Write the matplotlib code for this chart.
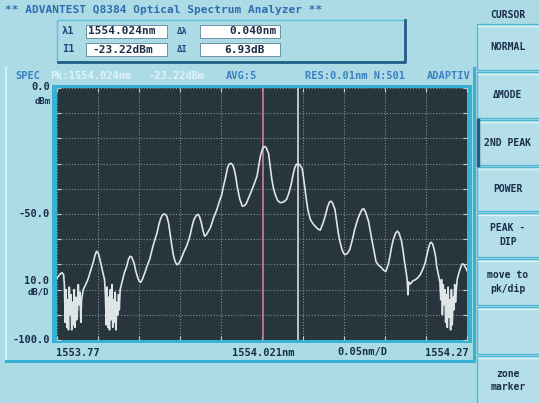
import matplotlib.pyplot as plt
from matplotlib.patches import Rectangle

# trace (nm, dBm)
wavelength_nm = [
    1553.770, 1553.772, 1553.774, 1553.776, 1553.778, 1553.779, 1553.780, 1553.781, 1553.782, 1553.783,
    1553.784, 1553.785, 1553.786, 1553.787, 1553.788, 1553.789, 1553.790, 1553.791, 1553.792, 1553.793,
    1553.794, 1553.795, 1553.796, 1553.797, 1553.798, 1553.799, 1553.800, 1553.801, 1553.802, 1553.805,
    1553.808, 1553.811, 1553.814, 1553.816, 1553.818, 1553.820, 1553.822, 1553.824, 1553.826, 1553.828,
    1553.829, 1553.830, 1553.831, 1553.832, 1553.833, 1553.834, 1553.835, 1553.836, 1553.837, 1553.838,
    1553.839, 1553.840, 1553.841, 1553.842, 1553.843, 1553.844, 1553.845, 1553.846, 1553.847, 1553.849,
    1553.852, 1553.855, 1553.857, 1553.859, 1553.861, 1553.864, 1553.866, 1553.868, 1553.870, 1553.872,
    1553.874, 1553.877, 1553.880, 1553.883, 1553.887, 1553.890, 1553.892, 1553.894, 1553.896, 1553.898,
    1553.900, 1553.902, 1553.904, 1553.906, 1553.908, 1553.910, 1553.912, 1553.914, 1553.916, 1553.918,
    1553.920, 1553.922, 1553.925, 1553.928, 1553.931, 1553.933, 1553.935, 1553.937, 1553.940, 1553.942,
    1553.944, 1553.946, 1553.948, 1553.950, 1553.952, 1553.954, 1553.957, 1553.961, 1553.965, 1553.968,
    1553.971, 1553.973, 1553.975, 1553.978, 1553.980, 1553.982, 1553.984, 1553.986, 1553.988, 1553.990,
    1553.993, 1553.996, 1553.999, 1554.001, 1554.004, 1554.007, 1554.010, 1554.014, 1554.016, 1554.018,
    1554.021, 1554.023, 1554.025, 1554.028, 1554.030, 1554.032, 1554.034, 1554.036, 1554.039, 1554.042,
    1554.046, 1554.050, 1554.053, 1554.056, 1554.058, 1554.060, 1554.062, 1554.064, 1554.066, 1554.069,
    1554.071, 1554.074, 1554.076, 1554.079, 1554.082, 1554.085, 1554.088, 1554.091, 1554.094, 1554.097,
    1554.100, 1554.102, 1554.104, 1554.106, 1554.109, 1554.111, 1554.113, 1554.115, 1554.117, 1554.119,
    1554.121, 1554.124, 1554.127, 1554.130, 1554.133, 1554.137, 1554.140, 1554.142, 1554.144, 1554.146,
    1554.148, 1554.150, 1554.152, 1554.154, 1554.157, 1554.159, 1554.162, 1554.164, 1554.166, 1554.168,
    1554.170, 1554.171, 1554.174, 1554.176, 1554.178, 1554.180, 1554.183, 1554.185, 1554.187, 1554.190,
    1554.192, 1554.194, 1554.196, 1554.197, 1554.198, 1554.199, 1554.201, 1554.204, 1554.207, 1554.210,
    1554.213, 1554.216, 1554.219, 1554.221, 1554.223, 1554.225, 1554.226, 1554.228, 1554.230, 1554.232,
    1554.233, 1554.235, 1554.237, 1554.238, 1554.239, 1554.240, 1554.241, 1554.242, 1554.243, 1554.244,
    1554.245, 1554.246, 1554.247, 1554.248, 1554.249, 1554.250, 1554.251, 1554.252, 1554.253, 1554.254,
    1554.255, 1554.256, 1554.257, 1554.258, 1554.260, 1554.262, 1554.264, 1554.266, 1554.268, 1554.270,
]
level_dbm = [
    -75.5, -74.6, -73.8, -73.3, -74.0, -78, -93, -80, -95, -84,
    -96, -79, -90, -82, -96, -85, -94, -80, -95, -83,
    -92, -88, -78, -86, -81, -93, -84, -82, -80, -78,
    -75.7, -72.5, -69.4, -66.8, -64.8, -65.3, -67.5, -70.5, -73.3, -76,
    -82, -94, -79, -95, -83, -96, -80, -92, -78, -95,
    -84, -93, -81, -96, -85, -90, -82, -88, -80, -77.4,
    -73.5, -70.8, -68.2, -66.8, -67.0, -69.5, -72.5, -74.8, -76.6, -77.1,
    -76.0, -73.4, -70.5, -68.0, -62.8, -59.5, -57.5, -54.5, -52.2, -50.7,
    -50.0, -50.1, -51.0, -53.5, -58.0, -62.5, -66.5, -68.8, -70.1, -69.8,
    -68.7, -67.3, -64.8, -62.8, -60.0, -57.5, -54.5, -52.2, -50.5, -50.2,
    -51.2, -53.5, -56.5, -58.8, -58.3, -57.2, -55.5, -51.5, -48.2, -45.0,
    -42.2, -39.0, -36.3, -31.6, -30.2, -29.9, -30.4, -32.0, -35.2, -39.5,
    -44.2, -46.9, -46.6, -45.7, -43.4, -40.9, -38.5, -34.9, -31.0, -27.0,
    -23.8, -23.2, -23.6, -26.0, -31.0, -36.3, -39.8, -42.2, -44.6, -45.5,
    -45.3, -44.2, -41.5, -37.6, -34.2, -31.6, -30.3, -30.1, -30.5, -32.0,
    -36.5, -44.0, -48.5, -52.2, -53.8, -54.9, -55.9, -56.4, -54.0, -50.9,
    -47.2, -45.4, -44.9, -45.6, -48.2, -53.0, -57.5, -60.8, -63.5, -65.3,
    -66.1, -65.7, -64.1, -60.5, -56.2, -51.8, -49.5, -48.2, -47.9, -49.0,
    -51.0, -53.0, -56.5, -60.2, -65.5, -68.8, -70.3, -70.8, -71.4, -72.2,
    -72.6, -72.8, -70.0, -66.8, -63.2, -60.2, -57.6, -56.8, -57.5, -60.5,
    -64.5, -69.4, -73.5, -76.1, -82.1, -77.0, -77.8, -76.5, -76.1, -75.3,
    -74.1, -72.0, -69.4, -66.5, -63.5, -61.6, -61.2, -61.8, -64.1, -67.5,
    -70.8, -74.0, -77.0, -84, -76, -90, -78, -86, -80, -93,
    -82, -95, -79, -91, -84, -96, -80, -94, -83, -88,
    -78, -85, -80, -76, -73.5, -71.5, -69.8, -70.0, -71.0, -72.5,
]

# markers: pink = centre / cursor 1, white = 2nd peak
marker_nm = [1554.021, 1554.064]
marker_colors = ['#c87aaa', '#d6dee0']

span_nm = [1553.77, 1554.27]
level_range = [-100.0, 0.0]
x_labels = ['1553.77', '1554.021nm', '1554.27']
y_labels = ['0.0', '-50.0', '-100.0']
y_label_values = [0.0, -50.0, -100.0]

buttons = ['NORMAL', '\u0394MODE', '2ND PEAK', 'POWER', 'PEAK -\nDIP',
           'move to\npk/dip', '', 'zone\nmarker']
button_tops = [24, 72, 120, 167, 213, 259, 307, 356]

PANEL = '#acdbe6'
SCREEN = '#28353c'
CYAN = '#35b2d4'
NAVY = '#1b2d4a'
BLUE = '#3a80c2'
MONO = dict(family='DejaVu Sans Mono', weight='bold')

W, H = 539, 403
fig = plt.figure(figsize=(W / 100, H / 100), dpi=100)
fig.patch.set_facecolor(PANEL)

# pixel-space overlay for the instrument chrome
bg = fig.add_axes([0, 0, 1, 1])
bg.set_xlim(0, W)
bg.set_ylim(H, 0)
bg.axis('off')


def rect(x0, y0, x1, y1, **kw):
    bg.add_patch(Rectangle((x0, y0), x1 - x0, y1 - y0, **kw))


def label(x, y, s, size=7.5, color=NAVY, ha='left', **kw):
    bg.text(x, y, s, size=size, color=color, ha=ha, va='center', **MONO, **kw)


label(5, 10, '** ADVANTEST Q8384 Optical Spectrum Analyzer **', size=8, color='#2f6cae')

# readout box
rect(57, 20, 405, 62, fc=PANEL, ec='#5cc0d8', lw=1)
bg.plot([58, 405, 405], [62, 62, 20], color='#1f5f85', lw=2)
for x0, x1 in [(86, 167), (200, 280)]:
    for y0 in [25, 43]:
        rect(x0, y0, x1, y0 + 13, fc='white', ec='#5a8498', lw=0.6)
label(62, 31, '\u03bb1', color='#1d4c80')
label(177, 31, '\u0394\u03bb', color='#1d4c80', size=6.5)
label(62, 49.5, 'I1', color='#1d4c80')
label(177, 49.5, '\u0394I', color='#1d4c80', size=6.5)
label(88, 31.5, '1554.024nm', size=8)
label(277, 31.5, '0.040nm', size=8, ha='right')
label(92, 50, '-23.22dBm', size=8)
label(265, 50, '6.93dB', size=8, ha='right')

# status line
label(15, 76, 'SPEC', size=7.5, color=BLUE)
label(50, 76, 'Pk:1554.024nm', size=7.5, color='#dff3f9')
label(148, 76, '-23.22dBm', size=7.5, color='#dff3f9')
label(226, 76, 'AVG:5', size=7.5, color=BLUE)
label(305, 76, 'RES:0.01nm N:501', size=7.5, color=BLUE)
label(427, 76, 'ADAPTIV', size=7.5, color=BLUE)

# frame around screen area
bg.plot([6, 6], [68, 361], color='#d4eff6', lw=1.5)
bg.plot([6, 474, 474], [361, 361, 68], color=CYAN, lw=2.2)
rect(52, 85, 472, 343, fc=CYAN, ec='none')
label(51, 101, 'dBm', size=6.5, ha='right')
label(49, 281, '10.0', size=7.5, ha='right')
label(49, 292, 'dB/D', size=6.5, ha='right')
label(337, 352, '0.05nm/D', size=7.5)

# soft-key column
label(508, 15, 'CURSOR', size=7, ha='center')
for i, (name, top) in enumerate(zip(buttons, button_tops)):
    bottom = button_tops[i + 1] - 2 if i + 1 < len(button_tops) else H + 2
    rect(477, top, W + 2, bottom, fc='#b4dfe9', ec='#4bb6d2', lw=0.9)
    bg.plot([478, W], [top + 1.5, top + 1.5], color='#d8f1f7', lw=1)
    if name == '2ND PEAK':
        bg.plot([478, 478], [top, bottom], color='#1f5f85', lw=2.5)
    label(508, (top + bottom) / 2, name, size=7, ha='center', linespacing=1.4)

# spectrum screen
ax = fig.add_axes([57 / W, 1 - 340 / H, 410 / W, 252 / H])
ax.set_facecolor(SCREEN)
ax.set_xlim(span_nm)
ax.set_ylim(level_range)
ax.set_xticks([span_nm[0] + 0.05 * k for k in range(11)])
ax.set_yticks([level_range[0] + 10 * k for k in range(11)])
ax.tick_params(direction='in', length=3, width=0.8, color='#c5d0d4',
               top=True, right=True, labelbottom=False, labelleft=False)
ax.grid(color='#7e9098', linestyle=(0, (1, 1.6)), linewidth=0.8)
for s in ax.spines.values():
    s.set_visible(False)

for nm, c in zip(marker_nm, marker_colors):
    ax.axvline(nm, color=c, lw=1.2)
ax.plot(wavelength_nm, level_dbm, color='#dde5e7', lw=1.2)

# scale annotations
ax.annotate(x_labels[0], xy=(span_nm[0], 0), xycoords=('data', 'axes fraction'),
            xytext=(-1, -9), textcoords='offset points', ha='left', va='center',
            size=7.5, color=NAVY, **MONO)
ax.annotate(x_labels[1], xy=(marker_nm[0], 0), xycoords=('data', 'axes fraction'),
            xytext=(0, -9), textcoords='offset points', ha='center', va='center',
            size=7.5, color=NAVY, **MONO)
ax.annotate(x_labels[2], xy=(span_nm[1], 0), xycoords=('data', 'axes fraction'),
            xytext=(1, -9), textcoords='offset points', ha='right', va='center',
            size=7.5, color=NAVY, **MONO)
for txt, v in zip(y_labels, y_label_values):
    ax.annotate(txt, xy=(0, v), xycoords=('axes fraction', 'data'),
                xytext=(-5, 1 if v == 0 else 0), textcoords='offset points',
                ha='right', va='center', size=7.5, color=NAVY, **MONO)

fig.savefig('out.png', dpi=100, facecolor=PANEL)
